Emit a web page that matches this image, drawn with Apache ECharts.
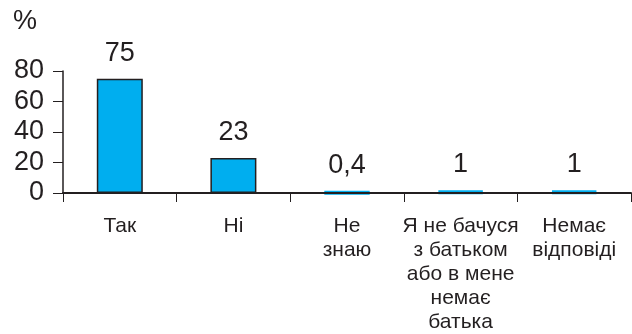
<!DOCTYPE html>
<html>
<head>
<meta charset="utf-8">
<style>
  html, body { margin: 0; padding: 0; background: #ffffff; }
  #chart { width: 632px; height: 334px; }
</style>
<script src="https://cdn.jsdelivr.net/npm/echarts@6/dist/echarts.min.js"></script>
</head>
<body>
<div id="chart"></div>
<script>
// Відповіді (у відсотках)
var categories = [
  'Так',
  'Ні',
  'Не\nзнаю',
  'Я не бачуся\nз батьком\nабо в мене\nнемає\nбатька',
  'Немає\nвідповіді'
];
var values = [75, 23, 0.4, 1, 1];
var yTicks = [0, 20, 40, 60, 80];

var FONT = '"Liberation Sans", Arial, Helvetica, sans-serif';
var INK = '#231f20';
var FILL = '#00aeef';

var chart = echarts.init(document.getElementById('chart'), null, { renderer: 'canvas' });

// Tall bars get a dark outline; the thin ones are drawn as a plain cyan strip.
var barData = values.map(function (v) {
  var tall = v >= 5;
  return {
    value: v,
    itemStyle: {
      color: FILL,
      borderColor: tall ? INK : FILL,
      borderWidth: tall ? 1.5 : 4
    }
  };
});

chart.setOption({
  animation: false,
  grid: { left: 63, right: 1, top: 71, bottom: 138, containLabel: false },
  graphic: [{
    type: 'text',
    left: 13,
    top: 8,
    style: { text: '%', fontSize: 27, fontFamily: FONT, fill: INK }
  }],
  xAxis: {
    type: 'category',
    data: categories,
    boundaryGap: true,
    z: 5,
    axisLine: { show: true, lineStyle: { color: INK, width: 2 } },
    axisTick: { show: true, alignWithLabel: false, length: 9, lineStyle: { color: INK, width: 1 } },
    axisLabel: {
      interval: 0,
      margin: 21,
      color: INK,
      fontFamily: FONT,
      fontSize: 21,
      lineHeight: 24,
      align: 'center'
    }
  },
  yAxis: {
    type: 'value',
    min: yTicks[0],
    max: yTicks[yTicks.length - 1],
    interval: 20,
    splitLine: { show: false },
    axisLine: { show: true, lineStyle: { color: INK, width: 1.5 } },
    axisTick: { show: true, length: 10, lineStyle: { color: INK, width: 1 } },
    axisLabel: {
      margin: 19,
      color: INK,
      fontFamily: FONT,
      fontSize: 27
    }
  },
  series: [{
    type: 'bar',
    data: barData,
    barWidth: 46,
    clip: false,
    label: {
      show: true,
      position: 'top',
      distance: 12,
      color: INK,
      fontFamily: FONT,
      fontSize: 27,
      formatter: function (p) { return String(p.value).replace('.', ','); }
    }
  }]
});
</script>
</body>
</html>
